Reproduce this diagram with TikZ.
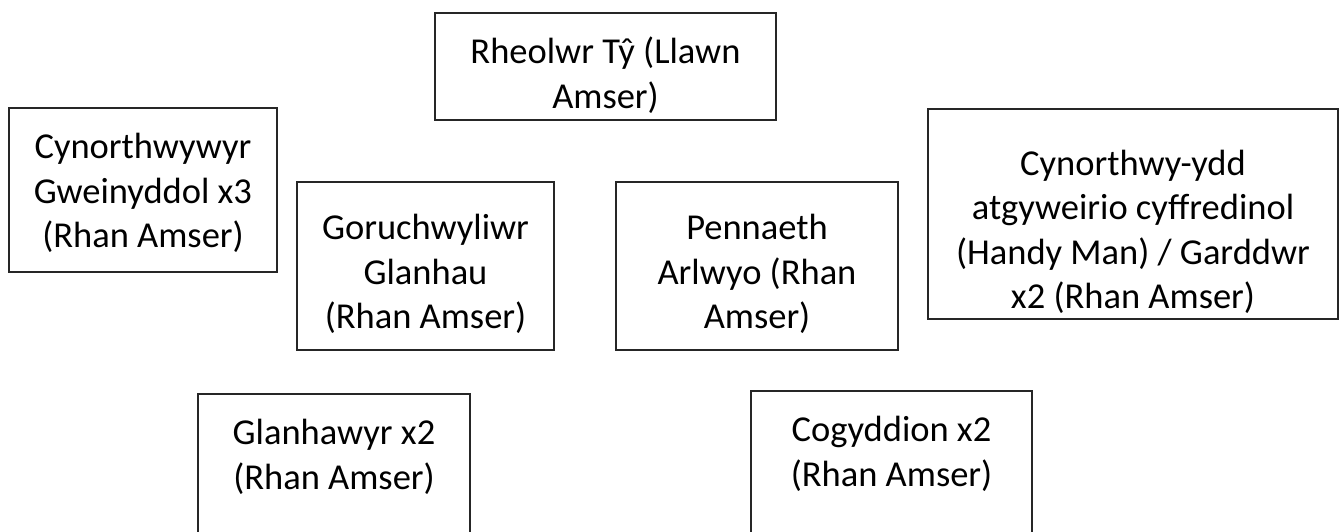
\documentclass[tikz,border=0pt]{standalone}
\usepackage{fontspec}
\setmainfont{Carlito}
\begin{document}
\begin{tikzpicture}[x=1pt,y=-1pt,
  box/.style={draw=black!85, line width=1.3pt},
  txt/.style={align=center, inner sep=0pt, font=\fontsize{36.5}{44.5}\selectfont, text=black}]
\useasboundingbox (0,0) rectangle (1343,531);
\clip (0,0) rectangle (1343,531);
% boxes
\draw[box] (435,13) rectangle (776,120);
\draw[box] (9,108) rectangle (277,272);
\draw[box] (297,182) rectangle (554,350);
\draw[box] (616,182) rectangle (898,350);
\draw[box] (928,109) rectangle (1338,319);
\draw[box] (198,394) rectangle (470,560);
\draw[box] (751,391) rectangle (1032,560);
% texts
\node[txt] (t1) at (605.5,75) {Rheolwr Tŷ (Llawn\\Amser)};
\node[txt] (t2) at (143,193) {Cynorthwywyr\\Gweinyddol x3\\(Rhan Amser)};
\node[txt] (t3) at (425.5,274) {Goruchwyliwr\\Glanhau\\(Rhan Amser)};
\node[txt] (t4) at (757,274) {Pennaeth\\Arlwyo (Rhan\\Amser)};
\node[txt] (t5) at (1133,232) {Cynorthwy-ydd\\atgyweirio cyffredinol\\(Handy Man) / Garddwr\\x2 (Rhan Amser)};
\node[txt] (t6) at (334,457) {Glanhawyr x2\\(Rhan Amser)};
\node[txt] (t7) at (891.5,454) {Cogyddion x2\\(Rhan Amser)};
\end{tikzpicture}
\end{document}
